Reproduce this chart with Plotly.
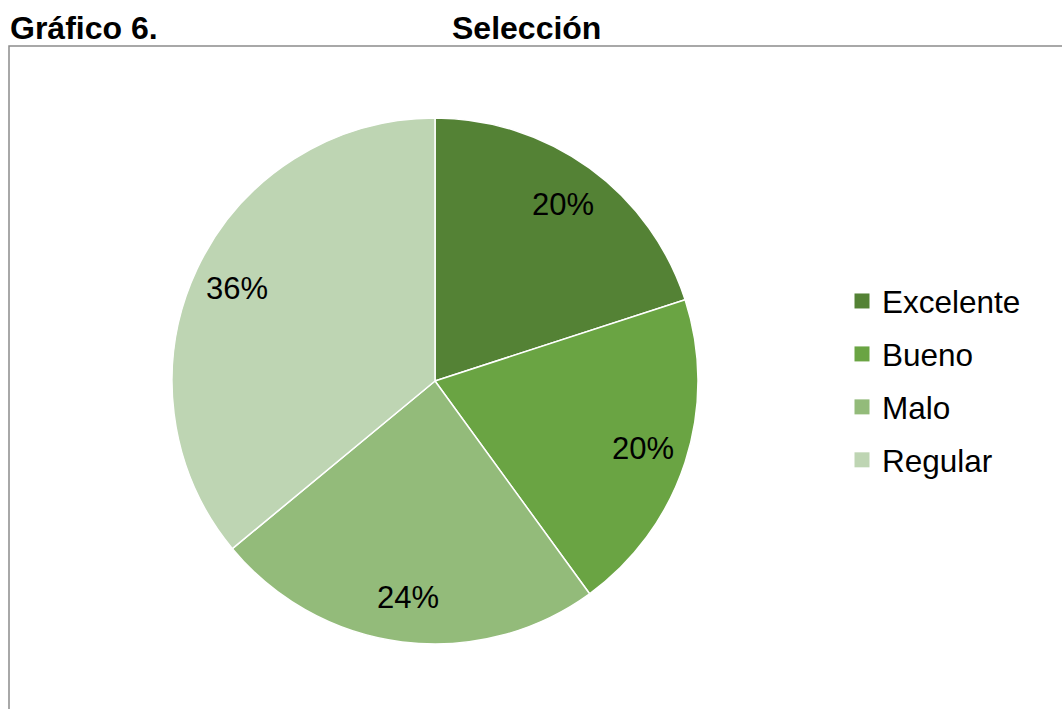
import math
import plotly.graph_objects as go

# Survey results for "Selección"
categories = ["Excelente", "Bueno", "Malo", "Regular"]
counts = [5, 5, 6, 9]
colors = ["#548235", "#6AA443", "#93BB7A", "#BED5B3"]

W, H = 1062, 709
FONT = "Arial, Liberation Sans, sans-serif"

# pie geometry in pixels
cx_px, cy_px, r_px = 435, 381, 263
dom_x = [(cx_px - r_px) / W, (cx_px + r_px) / W]
dom_y = [1 - (cy_px + r_px) / H, 1 - (cy_px - r_px) / H]

fig = go.Figure()
fig.add_trace(go.Pie(
    labels=categories,
    values=counts,
    marker=dict(colors=colors, line=dict(color="white", width=1.5)),
    sort=False,
    direction="clockwise",
    rotation=0,
    textinfo="none",
    hoverinfo="label+percent",
    showlegend=False,
    domain=dict(x=dom_x, y=dom_y),
))

# legend entries as square markers
for name, col in zip(categories, colors):
    fig.add_trace(go.Scatter(
        x=[None], y=[None], mode="markers", name=name,
        legendgroup=name,
        marker=dict(symbol="square", size=15, color=col),
    ))

# percentage labels placed inside each slice
total = sum(counts)
cum = 0
for v in counts:
    mid = (cum + v / 2) / total * 2 * math.pi
    cum += v
    rr = 0.83 * r_px
    px = cx_px + rr * math.sin(mid)
    py = cy_px - rr * math.cos(mid)
    fig.add_annotation(
        x=px / W, y=1 - py / H, xref="paper", yref="paper",
        text=f"{round(v / total * 100)}%", showarrow=False,
        font=dict(family=FONT, size=31, color="#000000"),
        xanchor="center", yanchor="middle",
    )

# heading
fig.add_annotation(x=8 / W, y=1 - 28 / H, xref="paper", yref="paper",
                   text="<b>Gráfico 6.</b>", showarrow=False,
                   xanchor="left", yanchor="middle",
                   font=dict(family=FONT, size=32, color="#000000"))
fig.add_annotation(x=526 / W, y=1 - 28 / H, xref="paper", yref="paper",
                   text="<b>Selección</b>", showarrow=False,
                   xanchor="center", yanchor="middle",
                   font=dict(family=FONT, size=32, color="#000000"))

# chart frame
fig.add_shape(type="rect", xref="paper", yref="paper",
              x0=9 / W, x1=1.01, y0=-0.01, y1=1 - 46 / H,
              line=dict(color="#8C8C8C", width=1.5), fillcolor="rgba(0,0,0,0)")

fig.update_layout(
    width=W, height=H,
    margin=dict(l=0, r=0, t=0, b=0),
    paper_bgcolor="white", plot_bgcolor="white",
    xaxis=dict(visible=False), yaxis=dict(visible=False),
    legend=dict(x=842 / W, xanchor="left", y=1 - 274 / H, yanchor="top",
                font=dict(family=FONT, size=31.5, color="#000000"),
                tracegroupgap=9, bgcolor="rgba(0,0,0,0)"),
    font=dict(family=FONT),
)

fig.write_html("out.html")
